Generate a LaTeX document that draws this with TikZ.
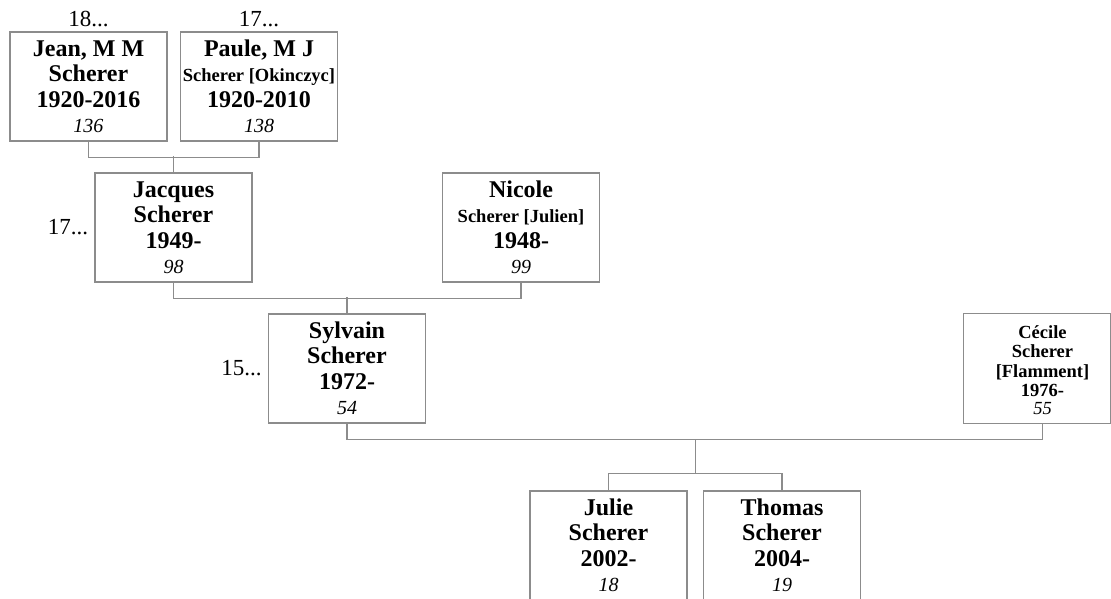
\documentclass[tikz,border=0pt]{standalone}
\usepackage{fontspec}
\setmainfont{Liberation Serif}
\usetikzlibrary{positioning, calc}
\definecolor{boxgray}{RGB}{140,140,140}
\newcommand{\numb}[1]{{\mdseries\itshape\fontsize{20}{25}\selectfont #1}}
\newcommand{\sname}[1]{{\fontsize{18.5}{25}\selectfont #1}}

\begin{document}
\begin{tikzpicture}[x=1pt, y=-1pt,
    person/.style={draw=boxgray, line width=1.2pt, minimum width=157pt, minimum height=109pt,
      inner sep=0pt, align=center, font=\fontsize{24}{25.5}\selectfont\bfseries},
    link/.style={draw=boxgray, line width=1.2pt},
    gen/.style={inner sep=0pt, font=\fontsize{23}{23}\selectfont}]
    \useasboundingbox (0,0) rectangle (1111,599);
    \clip (0,0) rectangle (1111,599);
    % grandparents
    \node[person] (jean) at (88.5,86.5) {Jean, M M\\Scherer\\1920-2016\\\numb{136}};
    \node[person] (paule) at (259,86.5) {Paule, M J\\\sname{Scherer [Okinczyc]}\\1920-2010\\\numb{138}};
    \node[gen, above=4pt of jean] (genjean) {18...};
    \node[gen, above=4pt of paule] (genpaule) {17...};
    % parents
    \node[person] (jacques) at (173.5,227.5) {Jacques\\Scherer\\1949-\\\numb{98}};
    \node[person] (nicole) at (521,227.5) {Nicole\\\sname{Scherer [Julien]}\\1948-\\\numb{99}};
    \node[gen, left=6pt of jacques] (genjacques) {17...};
    % couple
    \node[person] (sylvain) at (347,368.5) {Sylvain\\Scherer\\1972-\\\numb{54}};
    \node[gen, left=6pt of sylvain] (gensylvain) {15...};
    \node[person, draw=none, font=\fontsize{18.5}{19.5}\selectfont\bfseries] (cecile) at (1042.5,370)
      {C\'ecile\\Scherer\\{[Flamment]}\\1976-\\[-1.5pt]{\mdseries\itshape 55}};
    \draw[boxgray, line width=1.2pt] ([yshift=1.5pt]cecile.north west) rectangle ([shift={(-11pt,1.5pt)}]cecile.south east);
    % children
    \node[person] (julie) at (608.5,545.5) {Julie\\Scherer\\2002-\\\numb{18}};
    \node[person] (thomas) at (782,545.5) {Thomas\\Scherer\\2004-\\\numb{19}};
    % links
    \draw[link] (jean.south) -- ++(0,16) -| (paule.south);
    \draw[link] (jacques.north) -- ++(0,-16);
    \draw[link] (jacques.south) -- ++(0,16) -| (nicole.south);
    \draw[link] (sylvain.north) -- ++(0,-16);
    \draw[link] (sylvain.south) -- ++(0,16) -| ([yshift=1.5pt]cecile.south);
    \draw[link] (julie.north) -- ++(0,-17) -| (thomas.north);
    \coordinate (fam) at ($(julie.north)!0.5!(thomas.north)$);
    \draw[link] (fam) ++(0,-17) -- ++(0,-34);
\end{tikzpicture}
\end{document}
